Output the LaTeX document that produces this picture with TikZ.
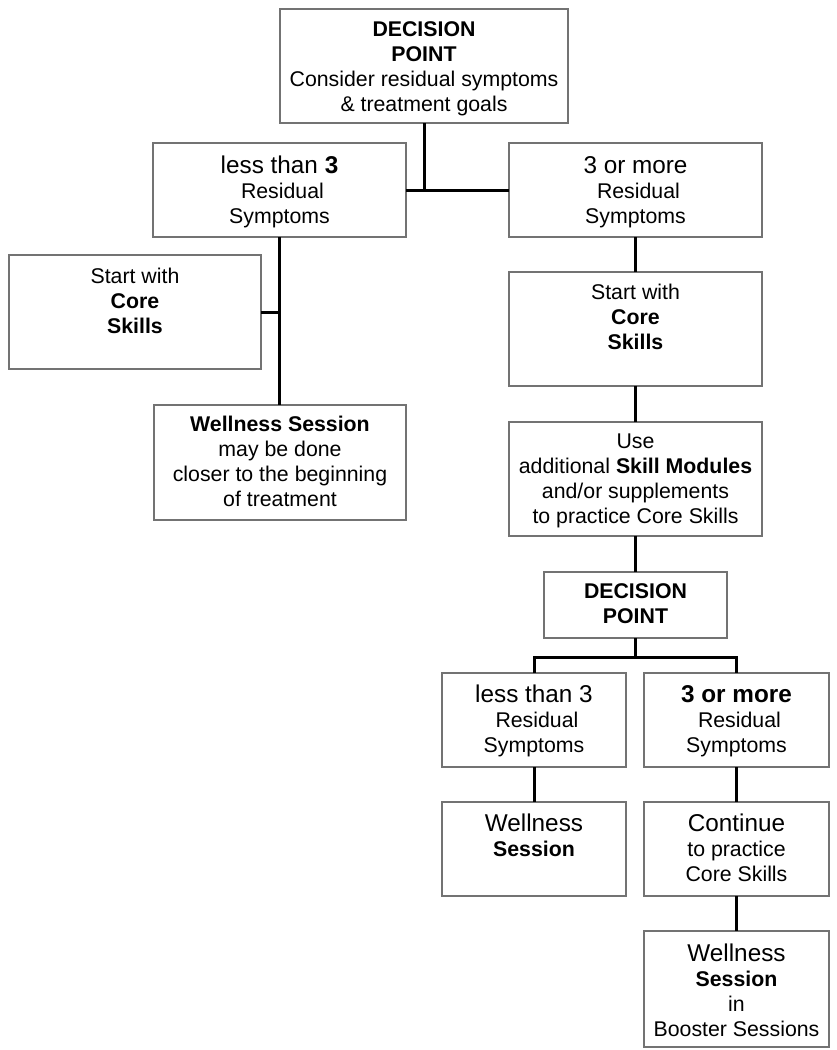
\documentclass[tikz,border=0pt]{standalone}
\usepackage{fontspec}
\setmainfont{Liberation Sans}
\newcommand\Lsz{\fontsize{24.3}{25}\selectfont}
\newcommand\fl{\rule{0pt}{20pt}}
\newcommand\mkbox[5]{\node[box, minimum width={#4-#2}, minimum height={#5-#3}] (#1) at ({(#2+#4)/2},{(#3+#5)/2}) {};}
\newcommand\mktext[3]{\node[txt] (#1t) at ([yshift={20-#2}]#1.north) {\fl #3};}
\begin{document}
\begin{tikzpicture}[x=1pt,y=-1pt,
  box/.style={draw=black!55, line width=2.6pt, rectangle, inner sep=0pt, outer sep=0pt},
  txt/.style={anchor=north, inner sep=0pt, align=center, font=\fontsize{21.3}{25}\selectfont},
  conn/.style={line width=3pt, draw=black}]
\useasboundingbox (0,0) rectangle (836,1050);

% boxes
\mkbox{top}{280}{9}{568}{123}
\mkbox{La}{153}{143}{406}{237}
\mkbox{Ra}{509}{143}{762}{237}
\mkbox{LL}{9}{255}{261}{369}
\mkbox{LW}{154}{405}{406}{520}
\mkbox{RS}{509}{272}{762}{386}
\mkbox{RU}{509}{422}{762}{536}
\mkbox{DP}{544}{572}{727}{638}
\mkbox{BL}{442}{673}{626}{767}
\mkbox{BR}{644}{673}{829}{767}
\mkbox{WL}{442}{802}{626}{896}
\mkbox{CO}{644}{802}{829}{896}
\mkbox{BO}{644}{931}{829}{1047}

% texts
\mktext{top}{27.7}{\textbf{DECISION}\\\textbf{POINT}\\Consider residual symptoms\\\& treatment goals}
\mktext{La}{30}{{\Lsz less than \textbf{3}}\\\ Residual\\Symptoms}
\mktext{Ra}{30}{{\Lsz 3 or more}\\\ Residual\\Symptoms}
\mktext{LL}{28}{Start with\\\textbf{Core}\\\textbf{Skills}}
\mktext{LW}{26.7}{\textbf{Wellness Session}\\may be done\\closer to the beginning\\of treatment}
\mktext{RS}{27}{Start with\\\textbf{Core}\\\textbf{Skills}}
\mktext{RU}{26}{Use\\additional \textbf{Skill Modules}\\and/or supplements\\to practice Core Skills}
\mktext{DP}{26}{\textbf{DECISION}\\\textbf{POINT}}
\mktext{BL}{29.7}{{\Lsz less than 3}\\\ Residual\\Symptoms}
\mktext{BR}{29.7}{{\Lsz\bfseries 3 or more}\\\ Residual\\Symptoms}
\mktext{WL}{29.7}{{\Lsz Wellness}\\\textbf{Session}}
\mktext{CO}{29.7}{{\Lsz Continue}\\to practice\\Core Skills}
\mktext{BO}{30.7}{{\Lsz Wellness}\\\textbf{Session}\\in\\Booster Sessions}

% connectors
\coordinate (j1) at (top.south |- La.east);
\draw[conn] (top.south) -- (j1);
\draw[conn] (La.east) -- (Ra.west);
\draw[conn] (La.south) -- (La.south |- LW.north);
\draw[conn] (LL.east) -- (LL.east -| La.south);
\draw[conn] (Ra.south) -- (RS.north);
\draw[conn] (RS.south) -- (RU.north);
\draw[conn] (RU.south) -- (RU.south |- DP.north);
\coordinate (j2) at ([yshift=-19pt]DP.south);
\draw[conn] (DP.south) -- (j2);
\draw[conn] (BL.north) |- (j2) -| (BR.north);
\draw[conn] (BL.south) -- (WL.north);
\draw[conn] (BR.south) -- (CO.north);
\draw[conn] (CO.south) -- (BO.north);
\end{tikzpicture}
\end{document}
